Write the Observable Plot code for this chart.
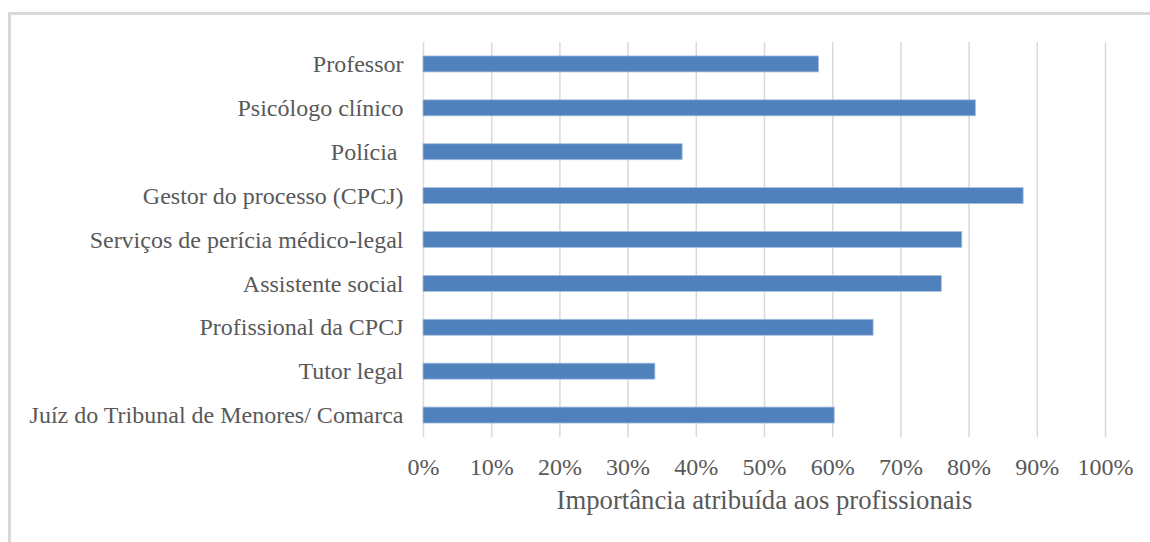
<!DOCTYPE html>
<html>
<head>
<meta charset="utf-8">
<script src="https://cdn.jsdelivr.net/npm/d3@7"></script>
<script src="https://cdn.jsdelivr.net/npm/@observablehq/plot@0.6"></script>
<style>
  html, body { margin: 0; padding: 0; background: #ffffff; }
  #wrap { position: relative; width: 1150px; height: 542px; overflow: hidden; }
  #border { position: absolute; left: 8px; top: 12px; width: 1160px; height: 560px;
            border-top: 3px solid #d9d9d9; border-left: 3px solid #d9d9d9; box-sizing: border-box; }
  #chart { position: absolute; left: 0; top: 0; }
  #chart svg, #chart svg text { font-family: "Liberation Serif", "Times New Roman", serif !important; }
</style>
</head>
<body>
<div id="wrap"><div id="border"></div><div id="chart"></div></div>
<script>
const categories = [
  "Professor",
  "Psicólogo clínico",
  "Polícia\u00a0",
  "Gestor do processo (CPCJ)",
  "Serviços de perícia médico-legal",
  "Assistente social",
  "Profissional da CPCJ",
  "Tutor legal",
  "Juíz do Tribunal de Menores/ Comarca"
];
const values = [0.58, 0.81, 0.38, 0.88, 0.79, 0.76, 0.66, 0.34, 0.603];
const xTicks = [0, 0.1, 0.2, 0.3, 0.4, 0.5, 0.6, 0.7, 0.8, 0.9, 1.0];
const xTitle = "Importância atribuída aos profissionais";

const data = categories.map((c, i) => ({category: c, value: values[i]}));
const FONT = "Liberation Serif";

const chart = Plot.plot({
  width: 1150,
  height: 542,
  marginLeft: 423,
  marginRight: 45,
  marginTop: 42,
  marginBottom: 105,
  style: {fontFamily: FONT, fontSize: "24px", color: "#595959", background: "transparent"},
  x: {domain: [0, 1]},
  y: {domain: categories, paddingInner: 0.636, paddingOuter: 0.318, round: false},
  marks: [
    Plot.gridX(xTicks, {stroke: "#d9d9d9", strokeOpacity: 1, strokeWidth: 1.5}),
    Plot.barX(data, {x: "value", y: "category", fill: "#4f81bd", stroke: "#a7bfdf", strokeWidth: 0.8}),
    Plot.axisX({ticks: xTicks, tickFormat: d3.format(".0%"), tickSize: 0, tickPadding: 20, label: null, fontSize: 24, fontFamily: FONT, fill: "#595959"}),
    Plot.axisY({tickSize: 0, tickPadding: 20, label: null, fontSize: 24, fontFamily: FONT, fill: "#595959"}),
    Plot.text([xTitle], {frameAnchor: "bottom", dy: 71, fontSize: 26.7, fontFamily: FONT, fill: "#595959", textAnchor: "middle"})
  ]
});
document.getElementById("chart").appendChild(chart);
</script>
</body>
</html>
